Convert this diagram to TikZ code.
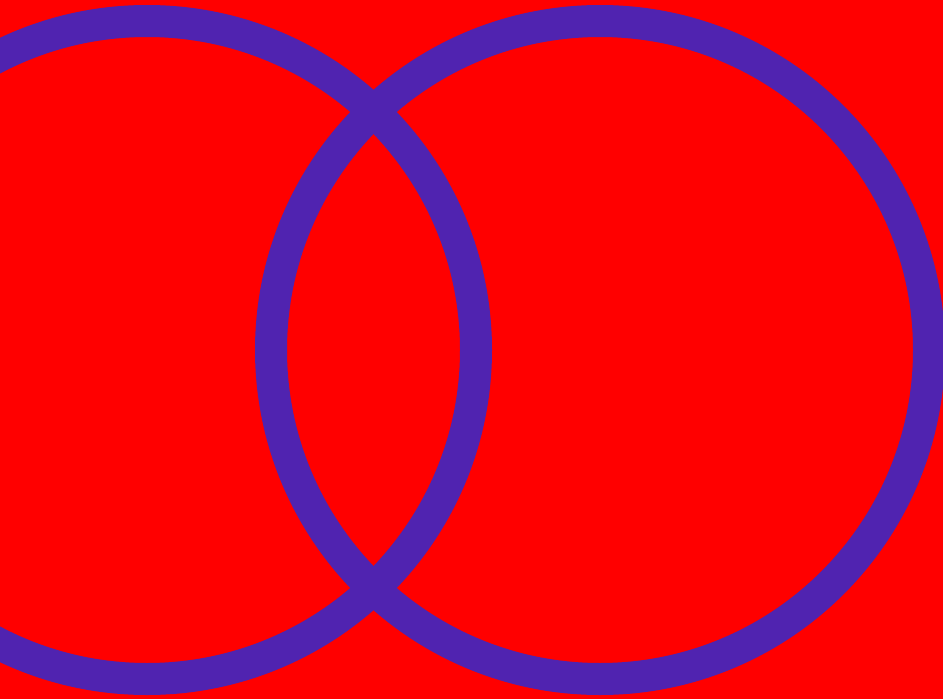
\documentclass[tikz,border=0pt]{standalone}
\definecolor{bgred}{RGB}{255,0,0}
\definecolor{ringpurple}{RGB}{80,35,176}
\begin{document}
\begin{tikzpicture}[x=1pt,y=-1pt,ring/.style={draw=ringpurple,line width=32pt}]
\useasboundingbox (0,0) rectangle (943,699);
\clip (0,0) rectangle (943,699);
\fill[bgred] (0,0) rectangle (943,699);
\node[ring,circle,minimum size=658pt,inner sep=0pt,outer sep=0pt,line width=32pt] (left) at (147,350) {};
\node[ring,circle,minimum size=658pt,inner sep=0pt,outer sep=0pt,line width=32pt] (right) at (600,350) {};
\end{tikzpicture}
\end{document}
